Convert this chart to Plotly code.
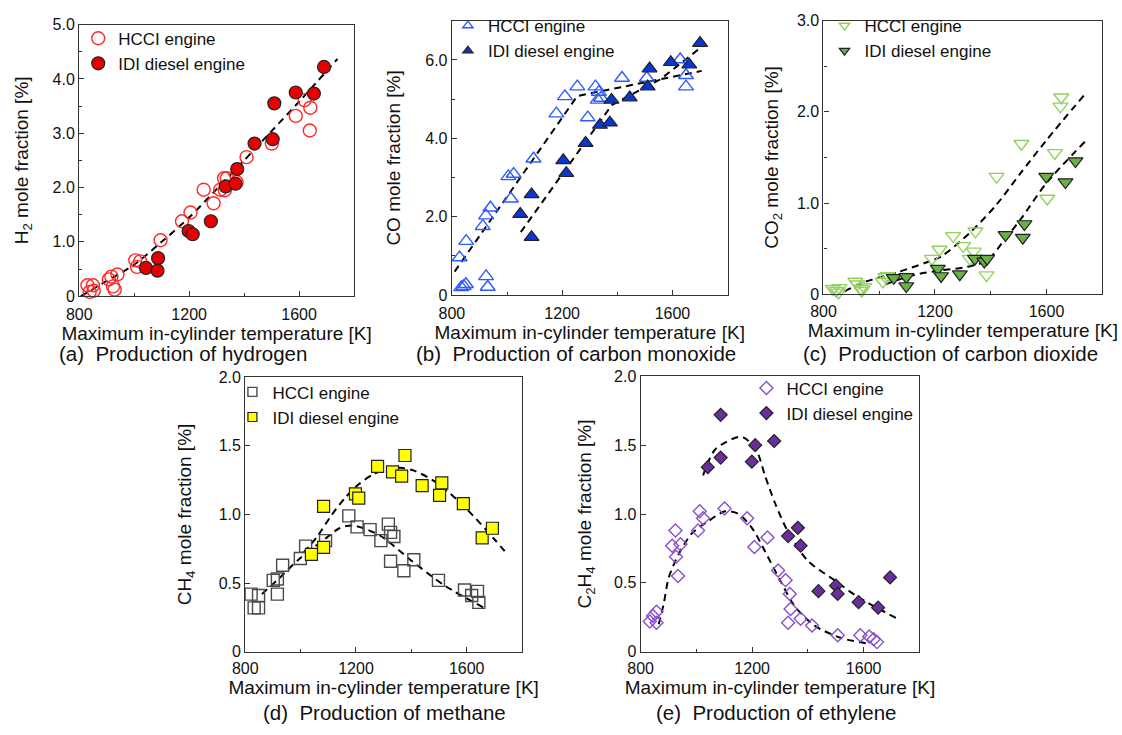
import plotly.graph_objects as go

# ---------------- data ----------------
# (a) hydrogen
h2_hcci_t = [830, 838, 850, 853, 908, 917, 923, 929, 939, 1004, 1010, 1022, 1096, 1174, 1205, 1253, 1289,
             1313, 1327, 1330, 1337, 1373, 1409, 1501, 1588, 1620, 1639, 1641]
h2_hcci_v = [0.20, 0.08, 0.20, 0.10, 0.31, 0.36, 0.18, 0.12, 0.40, 0.66, 0.54, 0.64, 1.03, 1.38, 1.54, 1.96, 1.71,
             1.96, 2.17, 1.95, 2.17, 2.10, 2.56, 2.81, 3.32, 3.61, 3.05, 3.47]
h2_idi_t = [1043, 1085, 1087, 1198, 1213, 1279, 1333, 1369, 1375, 1438, 1504, 1510, 1588, 1654, 1691]
h2_idi_v = [0.52, 0.47, 0.70, 1.20, 1.14, 1.38, 2.02, 2.07, 2.34, 2.81, 2.89, 3.55, 3.75, 3.73, 4.22]
h2_fit_t = [806, 900, 1000, 1100, 1200, 1300, 1400, 1500, 1600, 1740]
h2_fit_v = [0.00, 0.28, 0.58, 1.00, 1.45, 1.97, 2.50, 3.04, 3.58, 4.37]

# (b) carbon monoxide
co_hcci_t = [828, 834, 843, 851, 852, 912, 924, 924, 930, 940, 1005, 1014, 1024, 1096, 1179, 1210, 1255, 1293,
             1321, 1329, 1333, 1341, 1417, 1507, 1628, 1649, 1649]
co_hcci_v = [0.96, 0.20, 0.23, 0.28, 1.38, 1.76, 2.03, 0.48, 0.21, 2.23, 3.03, 2.46, 3.09, 3.48, 4.63, 5.07, 5.32,
             4.53, 5.32, 4.98, 5.18, 5.03, 5.54, 5.54, 6.01, 5.61, 5.32]
co_idi_t = [1048, 1089, 1089, 1204, 1215, 1285, 1337, 1373, 1379, 1445, 1510, 1517, 1594, 1661, 1700]
co_idi_v = [2.07, 1.48, 2.57, 3.44, 3.11, 3.88, 4.34, 4.40, 4.98, 5.04, 5.32, 5.78, 5.94, 5.88, 6.43]
co_hcci_fit_t = [810, 1255, 1706]
co_hcci_fit_v = [0.60, 5.08, 5.72]
co_idi_fit_t = [1050, 1380, 1420, 1555, 1718]
co_idi_fit_v = [1.61, 4.85, 5.00, 5.50, 6.40]

# (c) carbon dioxide
co2_hcci_t = [834, 846, 857, 854, 914, 922, 934, 937, 946, 1013, 1022, 1030, 1189, 1216, 1265, 1301, 1325, 1339,
              1345, 1385, 1421, 1510, 1603, 1630, 1650, 1653]
co2_hcci_v = [0.06, 0.04, 0.07, 0.02, 0.14, 0.11, 0.06, 0.04, 0.08, 0.14, 0.19, 0.20, 0.39, 0.49, 0.64, 0.53, 0.39,
              0.47, 0.69, 0.21, 1.29, 1.65, 1.05, 1.55, 2.06, 2.16]
co2_idi_t = [1052, 1097, 1097, 1210, 1222, 1289, 1343, 1377, 1387, 1453, 1515, 1521, 1599, 1668, 1704]
co2_idi_v = [0.18, 0.19, 0.09, 0.28, 0.20, 0.22, 0.39, 0.36, 0.39, 0.65, 0.62, 0.77, 1.29, 1.23, 1.46]
co2_hcci_fit_t = [874, 944, 1064, 1171, 1225, 1327, 1420, 1505, 1600, 1734]
co2_hcci_fit_v = [0.03, 0.13, 0.24, 0.35, 0.42, 0.68, 0.98, 1.32, 1.69, 2.18]
co2_idi_fit_t = [1022, 1124, 1219, 1315, 1387, 1450, 1507, 1600, 1740]
co2_idi_fit_v = [0.11, 0.21, 0.26, 0.30, 0.37, 0.60, 0.82, 1.22, 1.68]

# (d) methane
ch4_hcci_t = [821, 832, 848, 848, 901, 916, 916, 935, 999, 1018, 1090, 1174, 1204, 1251, 1290, 1317, 1325, 1337,
              1325, 1373, 1409, 1498, 1592, 1618, 1639, 1644]
ch4_hcci_v = [0.42, 0.32, 0.41, 0.32, 0.52, 0.53, 0.42, 0.63, 0.68, 0.77, 0.81, 0.99, 0.91, 0.89, 0.81, 0.93, 0.87,
              0.84, 0.66, 0.59, 0.67, 0.52, 0.45, 0.41, 0.44, 0.36]
ch4_idi_t = [1039, 1083, 1083, 1198, 1210, 1278, 1332, 1365, 1377, 1439, 1502, 1510, 1588, 1656, 1693]
ch4_idi_v = [0.71, 0.76, 1.06, 1.15, 1.12, 1.35, 1.31, 1.28, 1.43, 1.21, 1.14, 1.23, 1.08, 0.83, 0.90]
ch4_hcci_fit_t = [860, 925, 997, 1093, 1140, 1188, 1284, 1403, 1522, 1672]
ch4_hcci_fit_v = [0.42, 0.54, 0.68, 0.83, 0.90, 0.92, 0.85, 0.66, 0.48, 0.31]
ch4_idi_fit_t = [1010, 1060, 1110, 1160, 1210, 1260, 1310, 1360, 1410, 1500, 1600, 1700, 1747]
ch4_idi_fit_v = [0.72, 0.84, 0.99, 1.12, 1.22, 1.29, 1.33, 1.34, 1.32, 1.22, 1.04, 0.82, 0.71]

# (e) ethylene
c2h4_hcci_t = [833, 844, 857, 857, 913, 925, 927, 934, 943, 1006, 1012, 1024, 1101, 1182, 1208, 1255, 1293, 1320,
               1335, 1338, 1329, 1374, 1415, 1507, 1588, 1620, 1636, 1648]
c2h4_hcci_v = [0.22, 0.26, 0.29, 0.21, 0.77, 0.88, 0.69, 0.55, 0.78, 0.88, 1.02, 0.97, 1.04, 0.97, 0.76, 0.83, 0.59,
               0.52, 0.42, 0.31, 0.21, 0.24, 0.19, 0.12, 0.12, 0.11, 0.09, 0.07]
c2h4_idi_t = [1041, 1087, 1087, 1199, 1211, 1279, 1329, 1364, 1374, 1438, 1501, 1507, 1582, 1652, 1695]
c2h4_idi_v = [1.34, 1.41, 1.72, 1.38, 1.50, 1.53, 0.84, 0.90, 0.77, 0.44, 0.48, 0.42, 0.36, 0.32, 0.54]
c2h4_hcci_fit_t = [865, 883, 901, 937, 984, 1044, 1103, 1151, 1199, 1246, 1305, 1353, 1424, 1519, 1615]
c2h4_hcci_fit_v = [0.20, 0.35, 0.54, 0.71, 0.86, 0.95, 1.02, 1.00, 0.90, 0.73, 0.50, 0.33, 0.19, 0.10, 0.06]
c2h4_idi_fit_t = [1024, 1068, 1151, 1175, 1216, 1246, 1282, 1329, 1400, 1495, 1578, 1721]
c2h4_idi_fit_v = [1.28, 1.47, 1.56, 1.55, 1.46, 1.28, 1.08, 0.87, 0.66, 0.52, 0.40, 0.24]

# axis ticks
temp_ticks = [800, 1200, 1600]
y_ticks = {
    "a": ([0, 1, 2, 3, 4, 5], ["0", "1.0", "2.0", "3.0", "4.0", "5.0"]),
    "b": ([0, 2, 4, 6], ["0", "2.0", "4.0", "6.0"]),
    "c": ([0, 1, 2, 3], ["0", "1.0", "2.0", "3.0"]),
    "d": ([0, 0.5, 1, 1.5, 2], ["0", "0.5", "1.0", "1.5", "2.0"]),
    "e": ([0, 0.5, 1, 1.5, 2], ["0", "0.5", "1.0", "1.5", "2.0"]),
}
series_names = ["HCCI engine", "IDI diesel engine"]
captions = ["(a)  Production of hydrogen", "(b)  Production of carbon monoxide",
            "(c)  Production of carbon dioxide", "(d)  Production of methane",
            "(e)  Production of ethylene"]
y_titles = ["H<sub>2</sub> mole fraction [%]", "CO mole fraction [%]", "CO<sub>2</sub> mole fraction [%]",
            "CH<sub>4</sub> mole fraction [%]", "C<sub>2</sub>H<sub>4</sub> mole fraction [%]"]
x_title = "Maximum in-cylinder temperature [K]"

FONT = "Arial, 'Liberation Sans', sans-serif"
W, H = 1122, 735

# panel boxes in pixels: (left, right, top, bottom)
boxes = [(67, 345, 17, 295), (444, 723, 13, 294), (820, 1102, 13, 293),
         (235, 515, 378, 659), (635, 917, 377, 659)]
y_ranges = [[0, 5], [0, 7], [0, 3], [0, 2], [0, 2]]
y_minor = [0.5, 1, 0.5, None, None]
y_standoff = [18, 19, 13, 22, 17]
x_label_shift = [3, 3, 2, 2, 2]

panels = [
    dict(key="a", hcci=(h2_hcci_t, h2_hcci_v), idi=(h2_idi_t, h2_idi_v),
         fits=[(h2_fit_t, h2_fit_v)], spline=True,
         sym="circle", open_col="#ff2a2a", fill_col="#e60000", size=13, leg_size=13),
    dict(key="b", hcci=(co_hcci_t, co_hcci_v), idi=(co_idi_t, co_idi_v),
         fits=[(co_hcci_fit_t, co_hcci_fit_v), (co_idi_fit_t, co_idi_fit_v)], spline=False,
         sym="triangle-up", open_col="#2f5cff", fill_col="#0a36d6", size=13, leg_size=9),
    dict(key="c", hcci=(co2_hcci_t, co2_hcci_v), idi=(co2_idi_t, co2_idi_v),
         fits=[(co2_hcci_fit_t, co2_hcci_fit_v), (co2_idi_fit_t, co2_idi_fit_v)], spline=True,
         sym="triangle-down", open_col="#8fd35c", fill_col="#6bb045", size=13, leg_size=9),
    dict(key="d", hcci=(ch4_hcci_t, ch4_hcci_v), idi=(ch4_idi_t, ch4_idi_v),
         fits=[(ch4_hcci_fit_t, ch4_hcci_fit_v), (ch4_idi_fit_t, ch4_idi_fit_v)], spline=True,
         sym="square", open_col="#4a4a4a", fill_col="#ffff00", size=12, leg_size=9),
    dict(key="e", hcci=(c2h4_hcci_t, c2h4_hcci_v), idi=(c2h4_idi_t, c2h4_idi_v),
         fits=[(c2h4_hcci_fit_t, c2h4_hcci_fit_v), (c2h4_idi_fit_t, c2h4_idi_fit_v)], spline=True,
         sym="diamond", open_col="#8a4fd0", fill_col="#6a2d9c", size=10, leg_size=10),
]
# legend anchor (pixels, top-left)
legend_pos = [(66, 13), (440, 0), (821, 0), (222, 375), (742, 371)]

fig = go.Figure()
layout = dict(width=W, height=H, margin=dict(l=0, r=0, t=0, b=0),
              paper_bgcolor="white", plot_bgcolor="white",
              font=dict(family=FONT, size=16, color="#111"), showlegend=True)

for i, p in enumerate(panels):
    n = "" if i == 0 else str(i + 1)
    xa, ya = "x" + n, "y" + n
    leg = "legend" + n
    l, r, t, b = boxes[i]

    # dashed trend lines
    for ft, fv in p["fits"]:
        fig.add_trace(go.Scatter(
            x=ft, y=fv, mode="lines", xaxis=xa, yaxis=ya, showlegend=False, hoverinfo="skip",
            line=dict(color="black", width=2, dash="7px,5px",
                      shape="spline" if p["spline"] else "linear", smoothing=0.8)))

    # measured points
    fig.add_trace(go.Scatter(
        x=p["hcci"][0], y=p["hcci"][1], mode="markers", xaxis=xa, yaxis=ya, showlegend=False,
        cliponaxis=False, name=series_names[0],
        marker=dict(symbol=p["sym"] + "-open", size=p["size"], color=p["open_col"],
                    line=dict(width=1.4, color=p["open_col"]))))
    fig.add_trace(go.Scatter(
        x=p["idi"][0], y=p["idi"][1], mode="markers", xaxis=xa, yaxis=ya, showlegend=False,
        cliponaxis=False, name=series_names[1],
        marker=dict(symbol=p["sym"], size=p["size"], color=p["fill_col"],
                    line=dict(width=1.2, color="#222"))))

    # legend entries
    fig.add_trace(go.Scatter(
        x=[None], y=[None], mode="markers", xaxis=xa, yaxis=ya, legend=leg, name=series_names[0],
        marker=dict(symbol=p["sym"] + "-open", size=p["leg_size"], color=p["open_col"],
                    line=dict(width=1.4, color=p["open_col"]))))
    fig.add_trace(go.Scatter(
        x=[None], y=[None], mode="markers", xaxis=xa, yaxis=ya, legend=leg, name=series_names[1],
        marker=dict(symbol=p["sym"], size=p["leg_size"], color=p["fill_col"],
                    line=dict(width=1.2, color="#222"))))

    axis_common = dict(showline=True, linecolor="#333", linewidth=1.3, mirror=True,
                       ticks="inside", ticklen=5, tickcolor="#333", showgrid=False, zeroline=False,
                       tickfont=dict(size=16, family=FONT, color="#111"))
    layout["xaxis" + n] = dict(
        domain=[l / W, r / W], anchor=ya, range=[800, 1800], tickvals=temp_ticks,
        ticklabelstandoff=x_label_shift[i],
        minor=dict(dtick=200, tick0=800, ticks="inside", ticklen=3, tickcolor="#333"),
        title=dict(text=x_title, font=dict(size=19, family=FONT, color="#111"), standoff=2),
        **axis_common)
    tv, tt = y_ticks[p["key"]]
    ydict = dict(
        domain=[1 - b / H, 1 - t / H], anchor=xa, range=y_ranges[i], tickvals=tv, ticktext=tt,
        title=dict(text=y_titles[i], font=dict(size=19, family=FONT, color="#111"),
                   standoff=y_standoff[i]),
        **axis_common)
    if y_minor[i]:
        ydict["minor"] = dict(dtick=y_minor[i], tick0=0, ticks="inside", ticklen=3, tickcolor="#333")
    layout["yaxis" + n] = ydict

    lx, ly = legend_pos[i]
    layout[leg] = dict(x=lx / W, y=1 - ly / H, xanchor="left", yanchor="top",
                       bgcolor="rgba(0,0,0,0)", font=dict(size=17, family=FONT, color="#111"),
                       itemsizing="trace", tracegroupgap=0)

fig.update_layout(**layout)

# panel captions
cap_y = [354, 354, 354, 721, 721]
cap_x = [172, 570, 948, 376, 772]
for i, cap in enumerate(captions):
    fig.add_annotation(text=cap, x=cap_x[i] / W, y=1 - cap_y[i] / H, xref="paper", yref="paper",
                       showarrow=False, xanchor="center", yanchor="middle",
                       font=dict(size=20.5, family=FONT, color="#111"))

fig.write_html("out.html")
